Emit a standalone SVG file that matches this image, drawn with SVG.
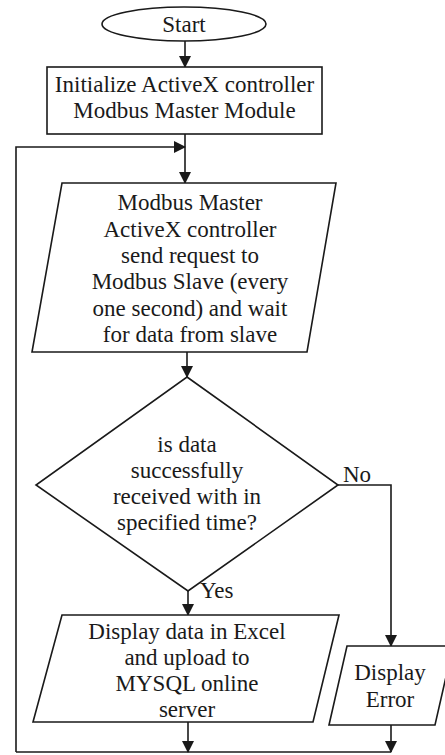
<svg xmlns="http://www.w3.org/2000/svg" width="445" height="755" viewBox="0 0 445 755" font-family="Liberation Serif" font-size="23">
<style>
.s{fill:#fff;stroke:#1a1a1a;stroke-width:1.6}
.c{fill:none;stroke:#1a1a1a;stroke-width:1.6}
.t{font-family:"Liberation Serif","Times New Roman",serif;font-size:23px;fill:#1a1a1a;text-anchor:middle}
.l{font-family:"Liberation Serif","Times New Roman",serif;font-size:23px;fill:#1a1a1a;text-anchor:start}
</style>
<defs>
<marker id="a" markerWidth="12" markerHeight="14" refX="11" refY="6" orient="auto" markerUnits="userSpaceOnUse" viewBox="0 0 12 12">
<path d="M0,0 L12,6 L0,12 Z" fill="#1a1a1a"/>
</marker>
</defs>
<g id="connectors">
<line class="c" x1="185" y1="41" x2="185" y2="67" marker-end="url(#a)"/>
<line class="c" x1="185" y1="134" x2="185" y2="183" marker-end="url(#a)"/>
<polyline class="c" points="16,752 16,147 185,147" marker-end="url(#a)"/>
<line class="c" x1="187" y1="352" x2="187" y2="377" marker-end="url(#a)"/>
<line class="c" x1="188" y1="591" x2="188" y2="615" marker-end="url(#a)"/>
<polyline class="c" points="338,485 391,485 391,646" marker-end="url(#a)"/>
<line class="c" x1="188" y1="722" x2="188" y2="752" marker-end="url(#a)"/>
<line class="c" x1="391" y1="725" x2="391" y2="752" marker-end="url(#a)"/>
<line class="c" x1="16" y1="752" x2="391" y2="752"/>
<text class="l" x="343" y="482">No</text>
<text class="l" x="200" y="598">Yes</text>
</g>
<g id="start">
<ellipse class="s" cx="184" cy="24" rx="82" ry="17"/>
<text class="t" x="184" y="32">Start</text>
</g>
<g id="init">
<rect class="s" x="47" y="67" width="275" height="67"/>
<text class="t" x="184.5" y="92">Initialize ActiveX controller</text>
<text class="t" x="184.5" y="118">Modbus Master Module</text>
</g>
<g id="request">
<polygon class="s" points="62,183 336,183 307,352 32,352"/>
<text class="t" x="190" y="210">Modbus Master</text>
<text class="t" x="190" y="237">ActiveX controller</text>
<text class="t" x="190" y="263">send request to</text>
<text class="t" x="190" y="289">Modbus Slave (every</text>
<text class="t" x="190" y="316">one second) and wait</text>
<text class="t" x="190" y="342">for data from slave</text>
</g>
<g id="decision">
<polygon class="s" points="187,377 338,485 188,591 36,485"/>
<text class="t" x="187" y="452">is data</text>
<text class="t" x="187" y="478">successfully</text>
<text class="t" x="187" y="504">received with in</text>
<text class="t" x="187" y="530">specified time?</text>
</g>
<g id="display-data">
<polygon class="s" points="62,615 339,615 313,722 33,722"/>
<text class="t" x="187" y="639">Display data in Excel</text>
<text class="t" x="187" y="665">and upload to</text>
<text class="t" x="187" y="691">MYSQL online</text>
<text class="t" x="187" y="717">server</text>
</g>
<g id="display-error">
<polygon class="s" points="347,646 453,646 435,725 329,725"/>
<text class="t" x="390" y="680">Display</text>
<text class="t" x="390" y="707">Error</text>
</g>
</svg>
